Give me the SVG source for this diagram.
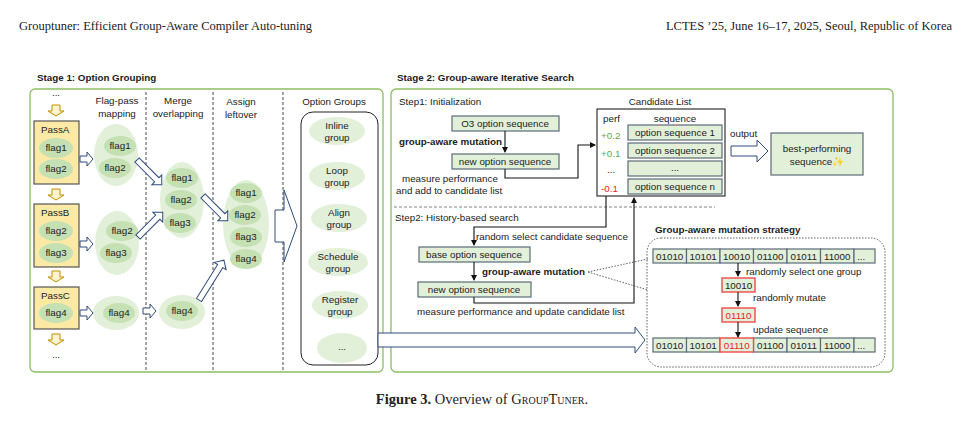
<svg xmlns="http://www.w3.org/2000/svg" width="965" height="427" viewBox="0 0 965 427">
<style>
text{font-family:"Liberation Sans",Arial,sans-serif;font-size:9.8px;fill:#222}
.c{text-anchor:middle}
.b{font-weight:bold}
.hdr{font-family:"Liberation Serif","Times New Roman",serif;font-size:12.5px}
.stage{fill:#fff;stroke:#8dbf62;stroke-width:1.3}
.dash{stroke:#333;stroke-width:0.9;stroke-dasharray:3,2}
.pass{fill:#fde9a6;stroke:#555;stroke-width:1.2}
.fl{fill:#c5e0b3}
.lg{fill:#e2efd9}
.seq{fill:#e2efd9;stroke:#5b6b78;stroke-width:1.2}
.red{fill:#e2efd9;stroke:#f04a4a;stroke-width:1.4}
.blk{fill:#fff;stroke:#2f4b7c;stroke-width:1}
.yel{fill:#fff2cc;stroke:#bf9000;stroke-width:1}
.ln{fill:none;stroke:#111;stroke-width:1.1}
</style>
<defs>
<marker id="ah" markerWidth="6" markerHeight="6" refX="5" refY="3" orient="auto" markerUnits="userSpaceOnUse"><path d="M0,0 L6,3 L0,6 z" fill="#111"/></marker>
<path id="ra" d="M0,-3 H7 V-7 L13,0 L7,7 V3 H0 z"/>
<path id="da" d="M-4,0 V6 H-8 L0,11 L8,6 H4 V0 z"/>
</defs>
<text class="hdr" x="19" y="30">Grouptuner: Efficient Group-Aware Compiler Auto-tuning</text>
<text class="hdr" x="952" y="30" text-anchor="end">LCTES ’25, June 16–17, 2025, Seoul, Republic of Korea</text>

<text class="b" x="37" y="81">Stage 1: Option Grouping</text>
<rect class="stage" x="30" y="89" width="353" height="283" rx="5"/>
<text class="b" x="397" y="81">Stage 2: Group-aware Iterative Search</text>
<rect class="stage" x="391" y="89" width="502" height="283" rx="5"/>
<g class="dash"><line x1="146" y1="92" x2="146" y2="372"/><line x1="213" y1="92" x2="213" y2="372"/><line x1="283" y1="92" x2="283" y2="372"/></g>
<text class="c" x="117" y="104">Flag-pass</text><text class="c" x="117" y="117">mapping</text>
<text class="c" x="178" y="104">Merge</text><text class="c" x="178" y="117">overlapping</text>
<text class="c" x="241" y="105">Assign</text><text class="c" x="241" y="118">leftover</text>
<text class="c" x="334" y="105">Option Groups</text>

<g id="passes">
<text class="c" x="56" y="96">...</text>
<use href="#da" class="yel" x="56" y="105"/>
<rect class="pass" x="34" y="121" width="45" height="63"/>
<text x="41" y="133">PassA</text>
<ellipse class="fl" cx="56" cy="148" rx="17" ry="10"/><text class="c" x="56" y="151">flag1</text>
<ellipse class="fl" cx="56" cy="169" rx="17" ry="10"/><text class="c" x="56" y="172">flag2</text>
<use href="#da" class="yel" x="56" y="189"/>
<rect class="pass" x="34" y="204" width="45" height="63"/>
<text x="41" y="216">PassB</text>
<ellipse class="fl" cx="56" cy="231" rx="17" ry="10"/><text class="c" x="56" y="234">flag2</text>
<ellipse class="fl" cx="56" cy="253" rx="17" ry="10"/><text class="c" x="56" y="256">flag3</text>
<use href="#da" class="yel" x="56" y="271"/>
<rect class="pass" x="34" y="287" width="45" height="42"/>
<text x="41" y="299">PassC</text>
<ellipse class="fl" cx="56" cy="313" rx="17" ry="10"/><text class="c" x="56" y="316">flag4</text>
<use href="#da" class="yel" x="56" y="334"/>
<text class="c" x="56" y="358">...</text>
</g>

<g id="col2">
<ellipse class="lg" cx="116" cy="155" rx="22" ry="31"/>
<ellipse class="fl" cx="120" cy="146" rx="16" ry="10"/><text class="c" x="120" y="149">flag1</text>
<ellipse class="fl" cx="115" cy="168" rx="16" ry="10"/><text class="c" x="115" y="171">flag2</text>
<ellipse class="lg" cx="117" cy="243" rx="22" ry="32"/>
<ellipse class="fl" cx="122" cy="231" rx="16" ry="10"/><text class="c" x="122" y="234">flag2</text>
<ellipse class="fl" cx="116" cy="253" rx="16" ry="10"/><text class="c" x="116" y="256">flag3</text>
<ellipse class="lg" cx="116" cy="313" rx="23" ry="17"/>
<ellipse class="fl" cx="119" cy="313" rx="16" ry="10"/><text class="c" x="119" y="316">flag4</text>
</g>
<g id="col3">
<ellipse class="lg" cx="182" cy="200" rx="22" ry="38"/>
<ellipse class="fl" cx="182" cy="178" rx="16" ry="10"/><text class="c" x="182" y="181">flag1</text>
<ellipse class="fl" cx="181" cy="200" rx="16" ry="10"/><text class="c" x="181" y="203">flag2</text>
<ellipse class="fl" cx="180" cy="223" rx="16" ry="10"/><text class="c" x="180" y="226">flag3</text>
<ellipse class="lg" cx="182" cy="312" rx="23" ry="17"/>
<ellipse class="fl" cx="182" cy="311" rx="16" ry="10"/><text class="c" x="182" y="314">flag4</text>
</g>
<g id="col4">
<ellipse class="lg" cx="246" cy="224" rx="23" ry="44"/>
<ellipse class="fl" cx="246" cy="193" rx="16" ry="10"/><text class="c" x="246" y="196">flag1</text>
<ellipse class="fl" cx="245" cy="215" rx="16" ry="10"/><text class="c" x="245" y="218">flag2</text>
<ellipse class="fl" cx="246" cy="237" rx="16" ry="10"/><text class="c" x="246" y="240">flag3</text>
<ellipse class="fl" cx="246" cy="259" rx="16" ry="10"/><text class="c" x="246" y="262">flag4</text>
</g>

<g id="optgroups">
<rect x="301" y="112" width="77" height="253" rx="12" fill="#fff" stroke="#222" stroke-width="1"/>
<ellipse class="lg" cx="337" cy="131" rx="28" ry="14"/><text class="c" x="337" y="129">Inline</text><text class="c" x="337" y="141">group</text>
<ellipse class="lg" cx="337" cy="176" rx="28" ry="14"/><text class="c" x="337" y="174">Loop</text><text class="c" x="337" y="186">group</text>
<ellipse class="lg" cx="339" cy="218" rx="28" ry="14"/><text class="c" x="339" y="216">Align</text><text class="c" x="339" y="228">group</text>
<ellipse class="lg" cx="338" cy="262" rx="30" ry="14"/><text class="c" x="338" y="260">Schedule</text><text class="c" x="338" y="272">group</text>
<ellipse class="lg" cx="340" cy="305" rx="28" ry="14"/><text class="c" x="340" y="303">Register</text><text class="c" x="340" y="315">group</text>
<ellipse class="lg" cx="342" cy="348" rx="25" ry="15"/><text class="c" x="342" y="350">...</text>
</g>

<text x="399" y="105">Step1: Initialization</text>
<g id="o3"><rect class="seq" x="452" y="116" width="107" height="15"/><text class="c" x="505" y="127">O3 option sequence</text></g>
<text class="b" x="399" y="145">group-aware mutation</text>
<g id="newseq1"><rect class="seq" x="452" y="154" width="107" height="15"/><text class="c" x="505" y="165">new option sequence</text></g>
<text x="402" y="182">measure performance</text>
<text x="396" y="194">and add to candidate list</text>

<g id="candidates">
<text class="c" x="660" y="105">Candidate List</text>
<rect x="597" y="109" width="128" height="87" fill="#fff" stroke="#222" stroke-width="1.1"/>
<text x="603" y="122">perf</text><text class="c" x="675" y="122">sequence</text>
<rect class="seq" x="628" y="125" width="94" height="15"/><text class="c" x="675" y="136">option sequence 1</text>
<rect class="seq" x="628" y="143" width="94" height="15"/><text class="c" x="675" y="154">option sequence 2</text>
<rect class="seq" x="628" y="161" width="94" height="15"/><text class="c" x="675" y="171">...</text>
<rect class="seq" x="628" y="179" width="94" height="15"/><text class="c" x="675" y="190">option sequence n</text>
<text x="601" y="139" style="fill:#6aaa3a">+0.2</text>
<text x="601" y="157" style="fill:#6aaa3a">+0.1</text>
<text x="607" y="173">...</text>
<text x="601" y="192" style="fill:#e81c1c">-0.1</text>
</g>
<text x="730" y="137">output</text>
<g id="best"><rect class="seq" x="771" y="133" width="92" height="42"/><text class="c" x="817" y="152">best-performing</text><text class="c" x="817" y="165">sequence<tspan style="fill:#f2c230">✨</tspan></text></g>

<line x1="394" y1="207" x2="715" y2="207" stroke="#777" stroke-width="0.9" stroke-dasharray="3,2"/>
<text x="395" y="221">Step2:  History-based search</text>
<text x="476" y="240">random select candidate sequence</text>
<g id="base"><rect class="seq" x="419" y="247" width="111" height="15"/><text class="c" x="474" y="258">base option sequence</text></g>
<text class="b" x="482" y="275">group-aware mutation</text>
<g id="newseq2"><rect class="seq" x="418" y="282" width="113" height="15"/><text class="c" x="474" y="293">new option sequence</text></g>
<text x="417" y="315">measure performance and update candidate list</text>

<g id="strategy">
<text class="b" x="655" y="233">Group-aware mutation strategy</text>
<rect x="647" y="238" width="238" height="129" rx="14" fill="none" stroke="#333" stroke-width="0.8" stroke-dasharray="1.5,1.5"/>
<g>
<rect class="seq" x="653" y="249" width="33.5" height="14"/><text class="c" x="669.7" y="259.5">01010</text>
<rect class="seq" x="686.5" y="249" width="33.5" height="14"/><text class="c" x="703.2" y="259.5">10101</text>
<rect class="seq" x="720" y="249" width="33.5" height="14"/><text class="c" x="736.7" y="259.5">10010</text>
<rect class="seq" x="753.5" y="249" width="33.5" height="14"/><text class="c" x="770.2" y="259.5">01100</text>
<rect class="seq" x="787" y="249" width="33.5" height="14"/><text class="c" x="803.7" y="259.5">01011</text>
<rect class="seq" x="820.5" y="249" width="33.5" height="14"/><text class="c" x="837.2" y="259.5">11000</text>
<rect class="seq" x="854" y="249" width="21" height="14"/><text x="857" y="259.5">...</text>
</g>
<text x="746" y="275">randomly select one group</text>
<rect class="red" x="722" y="278" width="33" height="14"/><text class="c" x="738.5" y="288.5">10010</text>
<text x="753" y="301">randomly mutate</text>
<rect class="red" x="722" y="308" width="33" height="14"/><text class="c" x="738.5" y="318.5" style="fill:#e81c1c">01110</text>
<text x="753" y="333">update sequence</text>
<g>
<rect class="seq" x="653" y="338" width="33.5" height="14"/><text class="c" x="669.7" y="348.5">01010</text>
<rect class="seq" x="686.5" y="338" width="33.5" height="14"/><text class="c" x="703.2" y="348.5">10101</text>
<rect class="seq" x="753.5" y="338" width="33.5" height="14"/><text class="c" x="770.2" y="348.5">01100</text>
<rect class="seq" x="787" y="338" width="33.5" height="14"/><text class="c" x="803.7" y="348.5">01011</text>
<rect class="seq" x="820.5" y="338" width="33.5" height="14"/><text class="c" x="837.2" y="348.5">11000</text>
<rect class="seq" x="854" y="338" width="21" height="14"/><text x="857" y="348.5">...</text>
<rect class="red" x="720" y="338" width="33.5" height="14"/><text class="c" x="736.7" y="348.5" style="fill:#e81c1c">01110</text>
</g>
</g>

<g id="connectors">
<use href="#ra" class="blk" x="80" y="159"/>
<use href="#ra" class="blk" x="80" y="244"/>
<use href="#ra" class="blk" x="80" y="313"/>
<use href="#ra" class="blk" x="143" y="311"/>
<path class="blk" d="M0,-3 H28 V-7 L35,0 L28,7 V3 H0 z" transform="translate(137,160) rotate(45)"/>
<path class="blk" d="M0,-3 H28 V-7 L35,0 L28,7 V3 H0 z" transform="translate(138,237) rotate(-45)"/>
<path class="blk" d="M0,-3 H28 V-7 L35,0 L28,7 V3 H0 z" transform="translate(203,196) rotate(45)"/>
<path class="blk" d="M0,-3 H40 V-7 L47,0 L40,7 V3 H0 z" transform="translate(199,300) rotate(-58)"/>
<path class="blk" d="M275,210 H284 V190 L297,226 L284,262 V242 H275 z"/>
<path class="blk" d="M378,333 H635 V327 L645,340 L635,353 V347 H378 z"/>
<path class="blk" d="M731,146 H757 V140 L768,151 L757,162 V156 H731 z"/>
<path class="ln" d="M505,131 V152" marker-end="url(#ah)"/>
<path class="ln" d="M505,169 V178 H578 V145 H595" marker-end="url(#ah)"/>
<path class="ln" d="M606,196 V227 H474 V245" marker-end="url(#ah)"/>
<path class="ln" d="M474,262 V280" marker-end="url(#ah)"/>
<path class="ln" d="M474,297 V303 H634 V198" marker-end="url(#ah)"/>
<path class="ln" d="M738,263 V276" marker-end="url(#ah)"/>
<path class="ln" d="M738,292 V306" marker-end="url(#ah)"/>
<path class="ln" d="M738,322 V337" marker-end="url(#ah)"/>
<path d="M588,272 L648,259 M588,272 L648,290" fill="none" stroke="#333" stroke-width="0.8" stroke-dasharray="1.5,1.5"/>
</g>

<text x="482" y="404" text-anchor="middle" style="font-family:'Liberation Serif','Times New Roman',serif;font-size:14.5px"><tspan font-weight="bold">Figure 3.</tspan> Overview of <tspan style="font-variant:small-caps">GroupTuner</tspan>.</text>
</svg>
